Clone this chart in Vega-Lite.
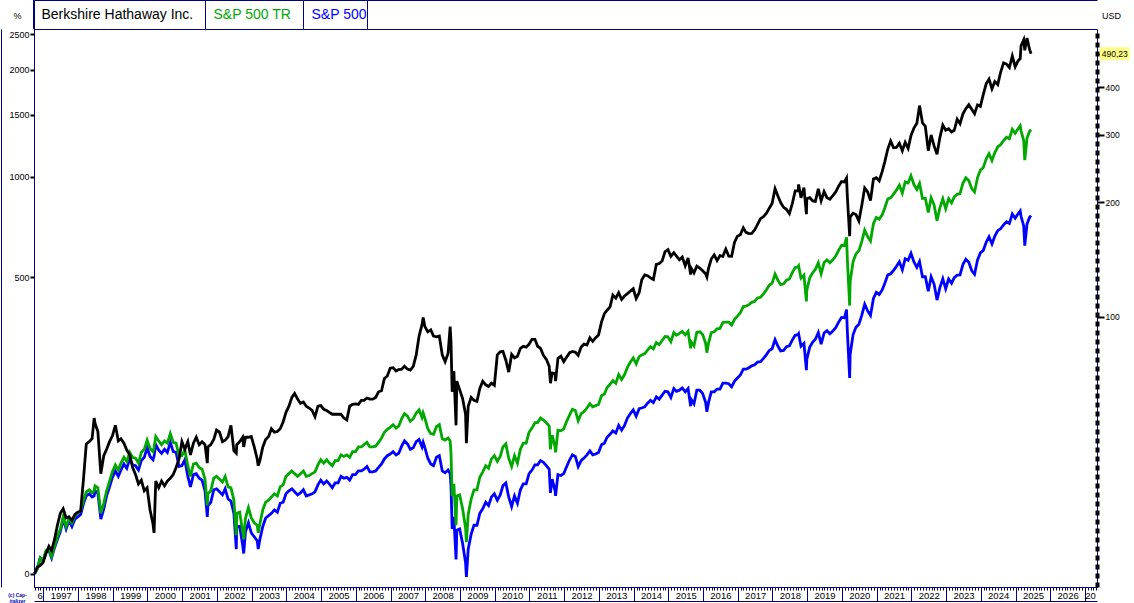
{
"$schema": "https://vega.github.io/schema/vega-lite/v6.json",
"width": 1063, "height": 558,
"autosize": {"type": "none"},
"padding": {"left": 34, "top": 29, "right": 37, "bottom": 16},
"background": "white",
"config": {"view": {"stroke": "#000080", "strokeWidth": 1}, "font": "Liberation Sans",
"locale": {"number": {"decimal": ",", "thousands": ".", "grouping": [3], "currency": ["", " USD"]}}},
"data": {"values": [
{"d":"1996-09-30","b":0,"t":0,"s":0},
{"d":"1996-10-28","b":4,"t":3,"s":3},
{"d":"1996-11-28","b":5,"t":10,"s":10},
{"d":"1996-12-28","b":7,"t":8,"s":8},
{"d":"1997-01-28","b":13,"t":15,"s":14},
{"d":"1997-02-28","b":18,"t":16,"s":15},
{"d":"1997-03-28","b":15,"t":11,"s":10},
{"d":"1997-04-28","b":23,"t":18,"s":17},
{"d":"1997-05-28","b":34,"t":25,"s":23},
{"d":"1997-06-28","b":44,"t":31,"s":29},
{"d":"1997-07-28","b":48,"t":41,"s":39},
{"d":"1997-08-28","b":40,"t":33,"s":31},
{"d":"1997-09-28","b":41,"t":40,"s":38},
{"d":"1997-10-28","b":38,"t":36,"s":33},
{"d":"1997-11-28","b":43,"t":42,"s":39},
{"d":"1997-12-28","b":45,"t":44,"s":41},
{"d":"1998-01-28","b":46,"t":46,"s":43},
{"d":"1998-02-28","b":79,"t":56,"s":53},
{"d":"1998-03-28","b":119,"t":64,"s":60},
{"d":"1998-04-28","b":122,"t":66,"s":62},
{"d":"1998-05-28","b":126,"t":63,"s":59},
{"d":"1998-06-19","b":156,"t":65,"s":60},
{"d":"1998-06-28","b":148,"t":70,"s":65},
{"d":"1998-07-28","b":136,"t":68,"s":63},
{"d":"1998-08-28","b":83,"t":44,"s":39},
{"d":"1998-09-28","b":104,"t":53,"s":48},
{"d":"1998-10-28","b":112,"t":65,"s":60},
{"d":"1998-11-28","b":122,"t":75,"s":69},
{"d":"1998-12-28","b":130,"t":85,"s":79},
{"d":"1999-01-28","b":145,"t":93,"s":86},
{"d":"1999-02-28","b":123,"t":87,"s":80},
{"d":"1999-03-28","b":126,"t":95,"s":87},
{"d":"1999-04-28","b":120,"t":102,"s":94},
{"d":"1999-05-28","b":111,"t":97,"s":89},
{"d":"1999-06-28","b":105,"t":108,"s":100},
{"d":"1999-07-28","b":90,"t":102,"s":93},
{"d":"1999-08-28","b":82,"t":101,"s":92},
{"d":"1999-09-28","b":72,"t":95,"s":87},
{"d":"1999-10-28","b":76,"t":108,"s":98},
{"d":"1999-11-28","b":65,"t":112,"s":102},
{"d":"1999-12-28","b":68,"t":124,"s":114},
{"d":"2000-01-28","b":47,"t":113,"s":103},
{"d":"2000-02-28","b":35,"t":109,"s":99},
{"d":"2000-03-10","b":28,"t":114,"s":103},
{"d":"2000-03-28","b":75,"t":129,"s":118},
{"d":"2000-04-28","b":68,"t":123,"s":111},
{"d":"2000-05-28","b":75,"t":118,"s":107},
{"d":"2000-06-28","b":70,"t":123,"s":112},
{"d":"2000-07-28","b":75,"t":120,"s":108},
{"d":"2000-08-28","b":78,"t":133,"s":121},
{"d":"2000-09-28","b":82,"t":121,"s":109},
{"d":"2000-10-28","b":90,"t":120,"s":108},
{"d":"2000-11-28","b":100,"t":103,"s":91},
{"d":"2000-12-28","b":122,"t":104,"s":92},
{"d":"2001-01-28","b":112,"t":111,"s":99},
{"d":"2001-02-28","b":122,"t":92,"s":80},
{"d":"2001-03-28","b":105,"t":80,"s":69},
{"d":"2001-04-28","b":120,"t":94,"s":82},
{"d":"2001-05-28","b":128,"t":95,"s":83},
{"d":"2001-06-28","b":118,"t":90,"s":78},
{"d":"2001-07-28","b":122,"t":88,"s":76},
{"d":"2001-08-28","b":118,"t":77,"s":65},
{"d":"2001-09-21","b":95,"t":51,"s":41},
{"d":"2001-09-28","b":115,"t":62,"s":51},
{"d":"2001-10-28","b":118,"t":65,"s":54},
{"d":"2001-11-28","b":125,"t":78,"s":66},
{"d":"2001-12-28","b":138,"t":80,"s":67},
{"d":"2002-01-28","b":135,"t":77,"s":64},
{"d":"2002-02-28","b":122,"t":74,"s":61},
{"d":"2002-03-28","b":124,"t":80,"s":67},
{"d":"2002-04-28","b":129,"t":69,"s":57},
{"d":"2002-05-28","b":145,"t":68,"s":55},
{"d":"2002-06-28","b":110,"t":56,"s":44},
{"d":"2002-07-23","b":107,"t":26,"s":16},
{"d":"2002-07-28","b":118,"t":44,"s":33},
{"d":"2002-08-28","b":122,"t":45,"s":33},
{"d":"2002-09-28","b":128,"t":29,"s":19},
{"d":"2002-10-09","b":115,"t":23,"s":13},
{"d":"2002-10-28","b":128,"t":40,"s":29},
{"d":"2002-11-28","b":128,"t":49,"s":36},
{"d":"2002-12-28","b":129,"t":40,"s":28},
{"d":"2003-01-28","b":115,"t":36,"s":25},
{"d":"2003-02-28","b":100,"t":34,"s":22},
{"d":"2003-03-11","b":92,"t":28,"s":16},
{"d":"2003-03-28","b":98,"t":35,"s":23},
{"d":"2003-04-28","b":115,"t":47,"s":33},
{"d":"2003-05-28","b":125,"t":54,"s":40},
{"d":"2003-06-28","b":129,"t":56,"s":42},
{"d":"2003-07-28","b":140,"t":59,"s":44},
{"d":"2003-08-28","b":135,"t":62,"s":47},
{"d":"2003-09-28","b":136,"t":60,"s":45},
{"d":"2003-10-28","b":140,"t":69,"s":53},
{"d":"2003-11-28","b":150,"t":71,"s":54},
{"d":"2003-12-28","b":165,"t":80,"s":62},
{"d":"2004-01-28","b":175,"t":83,"s":65},
{"d":"2004-02-28","b":190,"t":86,"s":67},
{"d":"2004-03-28","b":197,"t":83,"s":64},
{"d":"2004-04-28","b":187,"t":80,"s":61},
{"d":"2004-05-28","b":180,"t":83,"s":63},
{"d":"2004-06-28","b":182,"t":86,"s":66},
{"d":"2004-07-28","b":175,"t":80,"s":60},
{"d":"2004-08-28","b":172,"t":81,"s":61},
{"d":"2004-09-28","b":168,"t":83,"s":62},
{"d":"2004-10-28","b":158,"t":85,"s":64},
{"d":"2004-11-28","b":175,"t":93,"s":71},
{"d":"2004-12-28","b":176,"t":99,"s":76},
{"d":"2005-01-28","b":170,"t":95,"s":72},
{"d":"2005-02-28","b":168,"t":99,"s":75},
{"d":"2005-03-28","b":165,"t":95,"s":72},
{"d":"2005-04-28","b":162,"t":92,"s":68},
{"d":"2005-05-28","b":162,"t":98,"s":73},
{"d":"2005-06-28","b":162,"t":98,"s":73},
{"d":"2005-07-28","b":162,"t":105,"s":80},
{"d":"2005-08-28","b":156,"t":103,"s":78},
{"d":"2005-09-28","b":153,"t":105,"s":79},
{"d":"2005-10-28","b":175,"t":102,"s":76},
{"d":"2005-11-28","b":178,"t":109,"s":82},
{"d":"2005-12-28","b":179,"t":109,"s":82},
{"d":"2006-01-28","b":178,"t":115,"s":86},
{"d":"2006-02-28","b":185,"t":115,"s":86},
{"d":"2006-03-28","b":185,"t":118,"s":88},
{"d":"2006-04-28","b":189,"t":121,"s":91},
{"d":"2006-05-28","b":187,"t":115,"s":85},
{"d":"2006-06-28","b":187,"t":115,"s":85},
{"d":"2006-07-28","b":190,"t":116,"s":86},
{"d":"2006-08-28","b":200,"t":121,"s":90},
{"d":"2006-09-28","b":202,"t":127,"s":94},
{"d":"2006-10-28","b":225,"t":135,"s":100},
{"d":"2006-11-28","b":230,"t":139,"s":104},
{"d":"2006-12-28","b":246,"t":142,"s":106},
{"d":"2007-01-28","b":247,"t":146,"s":109},
{"d":"2007-02-28","b":240,"t":141,"s":105},
{"d":"2007-03-28","b":243,"t":144,"s":107},
{"d":"2007-04-28","b":244,"t":155,"s":116},
{"d":"2007-05-28","b":250,"t":163,"s":123},
{"d":"2007-06-28","b":244,"t":159,"s":119},
{"d":"2007-07-28","b":242,"t":151,"s":112},
{"d":"2007-08-28","b":250,"t":155,"s":114},
{"d":"2007-09-28","b":275,"t":164,"s":122},
{"d":"2007-10-28","b":320,"t":169,"s":125},
{"d":"2007-11-28","b":350,"t":157,"s":115},
{"d":"2007-12-10","b":370,"t":164,"s":121},
{"d":"2007-12-28","b":345,"t":156,"s":114},
{"d":"2008-01-28","b":331,"t":140,"s":101},
{"d":"2008-02-28","b":336,"t":133,"s":94},
{"d":"2008-03-28","b":320,"t":132,"s":92},
{"d":"2008-04-28","b":318,"t":143,"s":102},
{"d":"2008-05-28","b":320,"t":146,"s":104},
{"d":"2008-06-28","b":275,"t":126,"s":86},
{"d":"2008-07-28","b":260,"t":124,"s":84},
{"d":"2008-08-28","b":278,"t":127,"s":87},
{"d":"2008-09-19","b":345,"t":123,"s":83},
{"d":"2008-09-28","b":305,"t":107,"s":70},
{"d":"2008-10-10","b":200,"t":60,"s":31},
{"d":"2008-10-28","b":240,"t":72,"s":41},
{"d":"2008-11-20","b":145,"t":34,"s":9},
{"d":"2008-11-28","b":220,"t":60,"s":30},
{"d":"2008-12-28","b":204,"t":61,"s":31},
{"d":"2009-01-28","b":188,"t":48,"s":20},
{"d":"2009-02-28","b":162,"t":32,"s":7},
{"d":"2009-03-09","b":120,"t":21,"s":-2},
{"d":"2009-03-28","b":175,"t":43,"s":16},
{"d":"2009-04-28","b":190,"t":57,"s":27},
{"d":"2009-05-28","b":185,"t":66,"s":34},
{"d":"2009-06-28","b":183,"t":66,"s":34},
{"d":"2009-07-28","b":206,"t":79,"s":44},
{"d":"2009-08-28","b":220,"t":85,"s":48},
{"d":"2009-09-28","b":213,"t":92,"s":54},
{"d":"2009-10-28","b":210,"t":89,"s":51},
{"d":"2009-11-28","b":216,"t":100,"s":59},
{"d":"2009-12-28","b":212,"t":104,"s":62},
{"d":"2010-01-28","b":275,"t":97,"s":56},
{"d":"2010-02-28","b":282,"t":103,"s":61},
{"d":"2010-03-28","b":283,"t":115,"s":70},
{"d":"2010-04-28","b":263,"t":119,"s":73},
{"d":"2010-05-28","b":238,"t":101,"s":59},
{"d":"2010-06-28","b":276,"t":91,"s":50},
{"d":"2010-07-28","b":268,"t":104,"s":60},
{"d":"2010-08-28","b":272,"t":95,"s":53},
{"d":"2010-09-28","b":290,"t":112,"s":66},
{"d":"2010-10-28","b":295,"t":120,"s":72},
{"d":"2010-11-28","b":293,"t":120,"s":72},
{"d":"2010-12-28","b":300,"t":135,"s":83},
{"d":"2011-01-28","b":312,"t":141,"s":87},
{"d":"2011-02-28","b":312,"t":149,"s":93},
{"d":"2011-03-28","b":295,"t":149,"s":93},
{"d":"2011-04-28","b":290,"t":156,"s":98},
{"d":"2011-05-28","b":274,"t":153,"s":96},
{"d":"2011-06-28","b":265,"t":149,"s":92},
{"d":"2011-07-28","b":250,"t":144,"s":88},
{"d":"2011-08-10","b":216,"t":112,"s":63},
{"d":"2011-08-28","b":236,"t":131,"s":77},
{"d":"2011-09-28","b":235,"t":115,"s":65},
{"d":"2011-10-03","b":220,"t":108,"s":60},
{"d":"2011-10-28","b":267,"t":138,"s":82},
{"d":"2011-11-28","b":272,"t":137,"s":81},
{"d":"2011-12-28","b":260,"t":140,"s":83},
{"d":"2012-01-28","b":270,"t":151,"s":91},
{"d":"2012-02-28","b":280,"t":161,"s":99},
{"d":"2012-03-28","b":283,"t":170,"s":105},
{"d":"2012-04-28","b":281,"t":168,"s":103},
{"d":"2012-05-28","b":274,"t":152,"s":91},
{"d":"2012-06-28","b":293,"t":163,"s":98},
{"d":"2012-07-28","b":300,"t":166,"s":101},
{"d":"2012-08-28","b":298,"t":172,"s":105},
{"d":"2012-09-28","b":316,"t":179,"s":110},
{"d":"2012-10-28","b":307,"t":174,"s":105},
{"d":"2012-11-28","b":316,"t":176,"s":106},
{"d":"2012-12-28","b":323,"t":178,"s":108},
{"d":"2013-01-28","b":357,"t":193,"s":118},
{"d":"2013-02-28","b":381,"t":196,"s":120},
{"d":"2013-03-28","b":391,"t":208,"s":128},
{"d":"2013-04-28","b":401,"t":214,"s":132},
{"d":"2013-05-28","b":438,"t":221,"s":137},
{"d":"2013-06-28","b":428,"t":216,"s":134},
{"d":"2013-07-28","b":446,"t":233,"s":145},
{"d":"2013-08-28","b":424,"t":223,"s":138},
{"d":"2013-09-28","b":435,"t":233,"s":145},
{"d":"2013-10-28","b":443,"t":248,"s":156},
{"d":"2013-11-28","b":451,"t":259,"s":163},
{"d":"2013-12-28","b":459,"t":268,"s":169},
{"d":"2014-01-28","b":427,"t":255,"s":159},
{"d":"2014-02-28","b":446,"t":271,"s":171},
{"d":"2014-03-28","b":490,"t":275,"s":172},
{"d":"2014-04-28","b":508,"t":278,"s":174},
{"d":"2014-05-28","b":505,"t":286,"s":180},
{"d":"2014-06-28","b":497,"t":294,"s":185},
{"d":"2014-07-28","b":491,"t":289,"s":181},
{"d":"2014-08-28","b":548,"t":304,"s":191},
{"d":"2014-09-28","b":551,"t":299,"s":187},
{"d":"2014-10-28","b":561,"t":309,"s":194},
{"d":"2014-11-28","b":600,"t":319,"s":201},
{"d":"2014-12-28","b":608,"t":318,"s":200},
{"d":"2015-01-28","b":580,"t":306,"s":190},
{"d":"2015-02-28","b":595,"t":329,"s":206},
{"d":"2015-03-28","b":581,"t":322,"s":201},
{"d":"2015-04-28","b":566,"t":327,"s":203},
{"d":"2015-05-28","b":577,"t":332,"s":207},
{"d":"2015-06-28","b":542,"t":323,"s":200},
{"d":"2015-07-28","b":573,"t":332,"s":206},
{"d":"2015-08-24","b":509,"t":290,"s":175},
{"d":"2015-08-28","b":534,"t":306,"s":187},
{"d":"2015-09-28","b":515,"t":296,"s":179},
{"d":"2015-10-28","b":541,"t":330,"s":203},
{"d":"2015-11-28","b":533,"t":331,"s":203},
{"d":"2015-12-28","b":523,"t":324,"s":197},
{"d":"2016-01-28","b":512,"t":303,"s":182},
{"d":"2016-02-11","b":500,"t":280,"s":166},
{"d":"2016-02-28","b":532,"t":302,"s":181},
{"d":"2016-03-28","b":569,"t":329,"s":200},
{"d":"2016-04-28","b":586,"t":331,"s":200},
{"d":"2016-05-28","b":563,"t":339,"s":205},
{"d":"2016-06-28","b":583,"t":340,"s":205},
{"d":"2016-07-28","b":580,"t":356,"s":216},
{"d":"2016-08-28","b":610,"t":357,"s":216},
{"d":"2016-09-28","b":581,"t":357,"s":215},
{"d":"2016-10-28","b":580,"t":349,"s":209},
{"d":"2016-11-28","b":641,"t":365,"s":220},
{"d":"2016-12-28","b":668,"t":374,"s":226},
{"d":"2017-01-28","b":675,"t":384,"s":232},
{"d":"2017-02-28","b":708,"t":402,"s":244},
{"d":"2017-03-28","b":686,"t":403,"s":244},
{"d":"2017-04-28","b":680,"t":408,"s":247},
{"d":"2017-05-28","b":681,"t":415,"s":251},
{"d":"2017-06-28","b":698,"t":418,"s":253},
{"d":"2017-07-28","b":725,"t":429,"s":259},
{"d":"2017-08-28","b":754,"t":431,"s":260},
{"d":"2017-09-28","b":764,"t":442,"s":267},
{"d":"2017-10-28","b":781,"t":455,"s":275},
{"d":"2017-11-28","b":809,"t":471,"s":285},
{"d":"2017-12-28","b":835,"t":478,"s":289},
{"d":"2018-01-28","b":923,"t":511,"s":311},
{"d":"2018-02-28","b":877,"t":488,"s":295},
{"d":"2018-03-28","b":841,"t":473,"s":284},
{"d":"2018-04-28","b":814,"t":476,"s":285},
{"d":"2018-05-28","b":803,"t":489,"s":294},
{"d":"2018-06-28","b":780,"t":493,"s":296},
{"d":"2018-07-28","b":834,"t":516,"s":310},
{"d":"2018-08-28","b":910,"t":535,"s":322},
{"d":"2018-09-28","b":910,"t":539,"s":324},
{"d":"2018-10-03","b":950,"t":542,"s":326},
{"d":"2018-10-28","b":868,"t":496,"s":295},
{"d":"2018-11-28","b":929,"t":507,"s":302},
{"d":"2018-12-24","b":777,"t":418,"s":242},
{"d":"2018-12-28","b":863,"t":453,"s":265},
{"d":"2019-01-28","b":869,"t":497,"s":293},
{"d":"2019-02-28","b":850,"t":516,"s":305},
{"d":"2019-03-28","b":847,"t":528,"s":312},
{"d":"2019-04-28","b":922,"t":554,"s":329},
{"d":"2019-05-28","b":851,"t":512,"s":300},
{"d":"2019-06-28","b":905,"t":555,"s":328},
{"d":"2019-07-28","b":869,"t":565,"s":334},
{"d":"2019-08-28","b":860,"t":554,"s":326},
{"d":"2019-09-28","b":881,"t":566,"s":333},
{"d":"2019-10-28","b":903,"t":581,"s":342},
{"d":"2019-11-28","b":939,"t":605,"s":357},
{"d":"2019-12-28","b":968,"t":626,"s":370},
{"d":"2020-01-28","b":965,"t":626,"s":369},
{"d":"2020-02-19","b":990,"t":663,"s":393},
{"d":"2020-02-28","b":870,"t":566,"s":330},
{"d":"2020-03-23","b":668,"t":405,"s":226},
{"d":"2020-03-28","b":762,"t":484,"s":276},
{"d":"2020-04-28","b":782,"t":559,"s":324},
{"d":"2020-05-28","b":775,"t":590,"s":343},
{"d":"2020-06-28","b":742,"t":603,"s":351},
{"d":"2020-07-28","b":823,"t":643,"s":376},
{"d":"2020-08-28","b":928,"t":696,"s":409},
{"d":"2020-09-28","b":904,"t":666,"s":389},
{"d":"2020-10-28","b":852,"t":646,"s":376},
{"d":"2020-11-28","b":985,"t":728,"s":427},
{"d":"2020-12-28","b":993,"t":760,"s":447},
{"d":"2021-01-28","b":973,"t":751,"s":440},
{"d":"2021-02-28","b":1034,"t":774,"s":455},
{"d":"2021-03-28","b":1105,"t":812,"s":478},
{"d":"2021-04-28","b":1200,"t":861,"s":508},
{"d":"2021-05-28","b":1264,"t":868,"s":512},
{"d":"2021-06-28","b":1210,"t":890,"s":525},
{"d":"2021-07-28","b":1212,"t":914,"s":540},
{"d":"2021-08-28","b":1247,"t":945,"s":558},
{"d":"2021-09-28","b":1187,"t":896,"s":527},
{"d":"2021-10-28","b":1253,"t":966,"s":570},
{"d":"2021-11-28","b":1205,"t":959,"s":564},
{"d":"2021-12-28","b":1310,"t":1006,"s":593},
{"d":"2022-01-28","b":1375,"t":949,"s":557},
{"d":"2022-02-28","b":1418,"t":918,"s":536},
{"d":"2022-03-28","b":1590,"t":956,"s":559},
{"d":"2022-04-28","b":1422,"t":864,"s":501},
{"d":"2022-05-28","b":1392,"t":866,"s":501},
{"d":"2022-06-28","b":1187,"t":786,"s":451},
{"d":"2022-07-28","b":1316,"t":868,"s":501},
{"d":"2022-08-28","b":1225,"t":828,"s":475},
{"d":"2022-09-28","b":1159,"t":743,"s":422},
{"d":"2022-10-28","b":1293,"t":811,"s":463},
{"d":"2022-11-28","b":1402,"t":862,"s":494},
{"d":"2022-12-28","b":1357,"t":806,"s":459},
{"d":"2023-01-28","b":1369,"t":863,"s":493},
{"d":"2023-02-28","b":1342,"t":839,"s":478},
{"d":"2023-03-28","b":1356,"t":874,"s":498},
{"d":"2023-04-28","b":1457,"t":889,"s":507},
{"d":"2023-05-28","b":1415,"t":893,"s":508},
{"d":"2023-06-28","b":1508,"t":959,"s":548},
{"d":"2023-07-28","b":1559,"t":993,"s":568},
{"d":"2023-08-28","b":1599,"t":975,"s":556},
{"d":"2023-09-28","b":1552,"t":924,"s":524},
{"d":"2023-10-28","b":1509,"t":903,"s":510},
{"d":"2023-11-28","b":1597,"t":994,"s":565},
{"d":"2023-12-28","b":1582,"t":1044,"s":594},
{"d":"2024-01-28","b":1709,"t":1063,"s":605},
{"d":"2024-02-28","b":1831,"t":1125,"s":641},
{"d":"2024-03-28","b":1883,"t":1164,"s":665},
{"d":"2024-04-28","b":1771,"t":1113,"s":633},
{"d":"2024-05-28","b":1854,"t":1173,"s":668},
{"d":"2024-06-28","b":1818,"t":1218,"s":694},
{"d":"2024-07-28","b":1967,"t":1235,"s":703},
{"d":"2024-08-28","b":2088,"t":1267,"s":722},
{"d":"2024-09-28","b":2070,"t":1296,"s":738},
{"d":"2024-10-28","b":2026,"t":1284,"s":730},
{"d":"2024-11-28","b":2179,"t":1365,"s":778},
{"d":"2024-12-28","b":2037,"t":1330,"s":756},
{"d":"2025-01-28","b":2115,"t":1370,"s":779},
{"d":"2025-02-19","b":2145,"t":1396,"s":794},
{"d":"2025-02-28","b":2323,"t":1351,"s":766},
{"d":"2025-03-28","b":2412,"t":1269,"s":717},
{"d":"2025-04-08","b":2260,"t":1116,"s":625},
{"d":"2025-04-28","b":2415,"t":1259,"s":710},
{"d":"2025-05-02","b":2442,"t":1289,"s":727},
{"d":"2025-05-28","b":2276,"t":1345,"s":760},
{"d":"2025-06-13","b":2212,"t":1361,"s":770}
]},
"layer": [
{
"transform": [{"fold": ["s", "t", "b"], "as": ["k", "v"]}],
"mark": {"type": "line", "strokeWidth": 2.8},
"encoding": {
"x": {"field": "d", "type": "temporal",
"scale": {"type": "utc", "domain": [{"year": 1996, "month": 9, "date": 24, "utc": true}, {"year": 2027, "month": 5, "date": 8, "utc": true}]},
"axis": {"orient": "bottom", "tickCount": {"interval": "month", "step": 1},
"labelExpr": "utcmonth(datum.value) == 0 ? (utcyear(datum.value) == 2027 ? '20' : '' + utcyear(datum.value)) : ((utcyear(datum.value) == 1996 && utcmonth(datum.value) == 9) ? '6' : '')",
"labelOverlap": false, "labelFlush": false, "labelBound": false,
"labelAlign": "center", "labelBaseline": "middle",
"labelPadding": {"condition": {"test": "utcmonth(datum.value) == 0", "value": -5.5}, "value": 5.5},
"labelOffset": {"condition": {"test": "utcyear(datum.value) == 1996 || utcyear(datum.value) == 2027", "value": 5}, "value": 17.4},
"labelFontSize": 9.5, "labelColor": "#000000",
"tickSize": {"condition": {"test": "utcmonth(datum.value) == 0", "value": 14}, "value": 3},
"tickColor": "#000080", "tickWidth": 1,
"domainColor": "#000080", "grid": false,
"title": ["(c) Cap-", "italizer"], "titleFontSize": 5, "titleFontWeight": "bold", "titleColor": "#0000b0",
"titleX": -17, "titleY": 7, "titleAlign": "center", "titleBaseline": "middle", "titleLineHeight": 6, "titleAngle": 0}},
"y": {"field": "v", "type": "quantitative",
"scale": {"type": "symlog", "constant": 100, "domain": [-8.36, 2584], "nice": false, "zero": false},
"axis": {"orient": "left", "values": [0, 500, 1000, 1500, 2000, 2500], "format": "d",
"labelFontSize": 9, "labelColor": "#000000", "labelPadding": 1,
"tickSize": 4, "tickWidth": 2, "tickColor": "#000000", "domainColor": "#000080", "grid": false,
"title": "%", "titleAngle": 0, "titleX": -17, "titleY": -14, "titleAlign": "center", "titleBaseline": "middle",
"titleFontSize": 9, "titleFontWeight": "normal", "titleColor": "#000000"}},
"color": {"field": "k", "type": "nominal",
"scale": {"domain": ["b", "t", "s"], "range": ["#000000", "#00a800", "#0000ff"]},
"legend": {"orient": "none", "legendX": 0, "legendY": -29, "direction": "horizontal", "title": null,
"labelExpr": "datum.value == 'b' ? 'Berkshire Hathaway Inc.' : (datum.value == 't' ? 'S&P 500 TR' : 'S&P 500')",
"labelFont": "Liberation Sans", "labelFontSize": 14, "labelLimit": 400, "labelBaseline": "middle",
"symbolType": "M-0.035,-1L0.035,-1L0.035,1L-0.035,1Z", "symbolSize": 841, "symbolStrokeWidth": 0, "symbolFillColor": "#000080",
"symbolOffset": -15, "labelOffset": -6.5, "columnPadding": 10,
"strokeColor": "#000080", "padding": 0,
"encode": {
"labels": {"update": {"fill": {"scale": "color", "field": "value"}}},
"symbols": {"update": {"fill": {"value": "#000080"}, "fillOpacity": {"value": 1}, "strokeOpacity": {"value": 0}, "strokeWidth": {"value": 0}, "opacity": {"value": 1}}}
}}}
}
},
{
"data": {"values": [{"usd": 490.23}]},
"mark": {"type": "point", "shape": "M-1,-0.43L1,-0.43L1,0.43L-1,0.43Z", "size": 900, "filled": true, "color": "#ffff88", "opacity": 1},
"encoding": {
"x": {"datum": {"year": 2027, "month": 11, "date": 11, "utc": true}, "type": "temporal",
"axis": {"orient": "top", "offset": 29, "labels": false, "ticks": false, "title": null, "grid": false, "domainColor": "#000080", "domainWidth": 1}},
"y": {"field": "usd", "type": "quantitative",
"scale": {"type": "log", "domain": [19.56, 569], "nice": false},
"axis": {"orient": "right", "values": [100, 200, 300, 400, 490.23], "labelExpr": "datum.value > 450 ? '' : datum.label", "format": "d",
"labelFontSize": 8.5, "labelColor": "#000000", "labelPadding": 1,
"tickSize": 7, "tickWidth": 2, "tickColor": "#000000",
"domainColor": "#000000", "domainWidth": 4, "domainDash": [5, 4], "grid": false,
"title": "USD", "titleAngle": 0, "titleX": 14, "titleY": -14, "titleAlign": "center", "titleBaseline": "middle",
"titleFontSize": 9, "titleFontWeight": "normal", "titleColor": "#000000"}}
}
},
{
"data": {"values": [{"usd": 490.23}]},
"mark": {"type": "text", "fontSize": 8.5, "color": "#000000", "align": "center", "baseline": "middle", "font": "Liberation Sans"},
"encoding": {
"x": {"datum": {"year": 2027, "month": 11, "date": 11, "utc": true}, "type": "temporal",
"axis": {"orient": "bottom", "offset": 14, "labels": false, "ticks": false, "title": null, "grid": false, "domainColor": "#000080", "domainWidth": 1}},
"y": {"field": "usd", "type": "quantitative",
"scale": {"type": "log", "domain": [19.56, 569], "nice": false},
"axis": {"orient": "left", "offset": 33, "labels": false, "ticks": false, "title": null, "grid": false, "domainColor": "#000080", "domainWidth": 1}},
"text": {"field": "usd", "type": "quantitative", "format": ".2f"}
}
}
],
"resolve": {"scale": {"y": "independent"}, "axis": {"x": "independent", "y": "independent"}}
}
